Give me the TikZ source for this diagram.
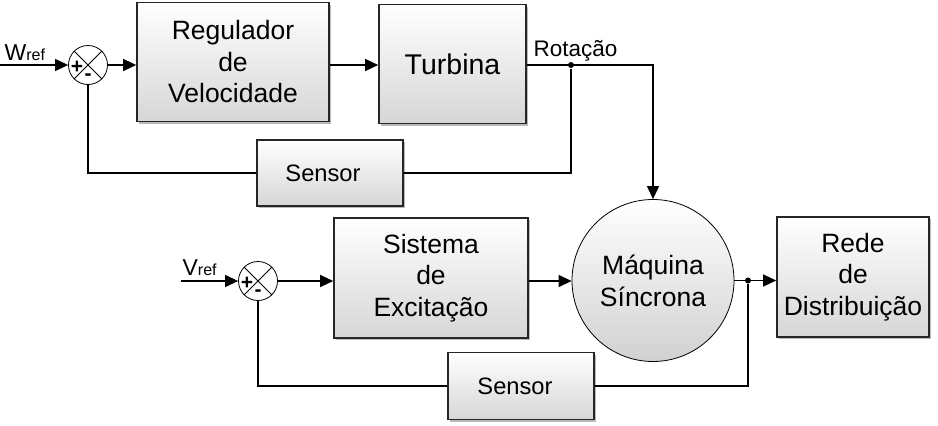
\documentclass[tikz,border=0pt]{standalone}
\usepackage{fontspec}
\setmainfont{Liberation Sans}
\usetikzlibrary{arrows.meta,shadows}

\tikzset{
  block/.style={draw=black!85, line width=1.6pt, top color=white, bottom color=black!16,
    drop shadow={shadow xshift=2pt, shadow yshift=-2pt, fill=black!45, opacity=0.6},
    align=center, inner sep=0pt, font=\fontsize{26.5}{31.5}\selectfont},
  summer/.style={draw, circle, line width=0.8pt, minimum size=39pt, inner sep=0pt},
  machine/.style={draw, circle, line width=0.8pt, top color=white, bottom color=black!18,
    minimum size=162pt, inner sep=0pt, align=center, font=\fontsize{26.5}{32}\selectfont},
  junction/.style={circle, fill, minimum size=6pt, inner sep=0pt},
  sign/.style={inner sep=0pt, font=\bfseries\fontsize{21}{21}\selectfont},
  reflabel/.style={anchor=base west, inner sep=0pt, font=\fontsize{23}{23}\selectfont}
}

\begin{document}
\begin{tikzpicture}[x=1pt, y=-1pt, >={Triangle[length=13pt,width=12pt]}, line width=1.2pt]
  % 1. Hintergrund: Bloecke mit Verlauf und Schatten.
  % 2. Mitte: Summierer, Maschine, Beschriftungen.
  % 3. Vordergrund: Signalleitungen mit Pfeilen.
  \useasboundingbox (0,0) rectangle (938,426);

  % obere Schleife
  \node[block, minimum width=192pt, minimum height=119pt] (reg) at (233,62) {Regulador\\de\\Velocidade};
  \node[block, minimum width=147pt, minimum height=119pt, font=\fontsize{28.5}{32}\selectfont] (turb) at (452.5,64) {Turbina};
  \node[block, minimum width=146pt, minimum height=66pt, font=\fontsize{23.7}{28}\selectfont] (sens1) at (330,173) {\hspace*{-14pt}Sensor};

  \node[summer] (s1) at (88,65) {};
  \draw[line width=0.8pt] (s1.north west) -- (s1.south east);
  \draw[line width=0.8pt] (s1.south west) -- (s1.north east);
  \node[sign] (s1p) at ([xshift=-11pt,yshift=-2pt]s1.center) {+};
  \node[sign] (s1m) at ([yshift=-12pt]s1.center) {-};

  \node[reflabel] (wref) at (4,60) {W{\fontsize{16}{16}\selectfont ref}};
  \coordinate (win) at (0,65);

  % untere Schleife
  \node[block, minimum width=194pt, minimum height=120pt] (sist) at (431,278) {Sistema\\de\\Excitação};
  \node[machine] (maq) at (653,280.5) {Máquina\\Síncrona};
  \node[block, minimum width=152pt, minimum height=120pt] (rede) at (853,277) {Rede\\de\\Distribuição};
  \node[block, minimum width=146pt, minimum height=67pt, font=\fontsize{23.7}{28}\selectfont] (sens2) at (521,386) {\hspace*{-12pt}Sensor};

  \node[summer] (s2) at (258,281) {};
  \draw[line width=0.8pt] (s2.north west) -- (s2.south east);
  \draw[line width=0.8pt] (s2.south west) -- (s2.north east);
  \node[sign] (s2p) at ([xshift=-11pt,yshift=-2pt]s2.center) {+};
  \node[sign] (s2m) at ([yshift=-12pt]s2.center) {-};

  \node[reflabel] (vref) at (182,275) {V{\fontsize{16}{16}\selectfont ref}};
  \coordinate (vin) at (181,281);

  \node[reflabel, font=\fontsize{22.5}{22.5}\selectfont] (rot) at (533,56) {Rotação};

  % Verbindungen oben
  \draw[->] (win) -- (s1.west);
  \draw[->] (s1.east) -- (s1 -| reg.west);
  \draw[->] (reg.east |- s1) -- (s1 -| turb.west);
  \draw[->] (turb.east |- s1) -| (maq.north);
  \node[junction] (j1) at (571,65) {};
  \draw (j1) |- (sens1.east);
  \draw (sens1.west) -| (s1.south);

  % Verbindungen unten
  \draw[->] (vin) -- (s2.west);
  \draw[->] (s2.east) -- (s2 -| sist.west);
  \draw[->] (sist.east |- s2) -- (s2 -| maq.west);
  \draw[->] (maq.east) -- (maq.east -| rede.west);
  \node[junction] (j2) at (748,280.5) {};
  \draw (j2) |- (sens2.east);
  \draw (sens2.west) -| (s2.south);
\end{tikzpicture}
\end{document}
